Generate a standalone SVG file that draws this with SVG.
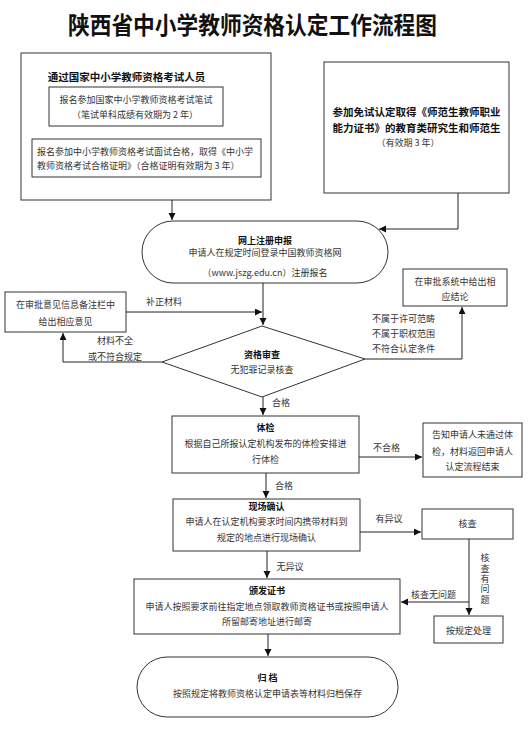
<svg xmlns="http://www.w3.org/2000/svg" width="530" height="735" viewBox="0 0 530 735">
<style>
text{font-family:"Noto Sans CJK SC","Noto Sans",sans-serif;fill:#333;font-size:9px}
.c{text-anchor:middle}
.b{font-weight:bold;fill:#111}
.h{font-weight:bold;fill:#111;font-size:10.5px}
.title{font-weight:bold;fill:#111;font-size:24px}
.v{writing-mode:vertical-rl;letter-spacing:1.3px}
.box{fill:#fff;stroke:#333;stroke-width:1}
.ln{fill:none;stroke:#222;stroke-width:1}
</style>
<defs>
<marker id="ah" markerUnits="userSpaceOnUse" markerWidth="8" markerHeight="8" refX="7" refY="3.5" orient="auto">
<path d="M0,0 L7,3.5 L0,7 z" fill="#111"/>
</marker>
</defs>
<rect width="530" height="735" fill="#fff"/>
<text class="title" x="68" y="33.5" textLength="369" lengthAdjust="spacingAndGlyphs">陕西省中小学教师资格认定工作流程图</text>

<g id="exam">
<rect class="box" x="21" y="53" width="250" height="147"/>
<text class="h c" x="126.5" y="81">通过国家中小学教师资格考试人员</text>
<rect class="box" x="49" y="87" width="174" height="39"/>
<text class="c" x="136" y="103.4">报名参加国家中小学教师资格考试笔试</text>
<text class="c" x="135" y="118.4">（笔试单科成绩有效期为 2 年）</text>
<rect class="box" x="32" y="139" width="229" height="38"/>
<text x="37" y="155.4">报名参加中小学教师资格考试面试合格，取得《中小学</text>
<text x="37" y="169.4">教师资格考试合格证明》（合格证明有效期为 3 年）</text>
</g>

<g id="exempt">
<rect class="box" x="324" y="62" width="185" height="131"/>
<text class="h c" x="416.5" y="116">参加免试认定取得《师范生教师职业</text>
<text class="h c" x="416.5" y="132">能力证书》的教育类研究生和师范生</text>
<text class="c" x="408" y="146.4">（有效期 3 年）</text>
</g>

<g id="register">
<rect class="box" x="142" y="221" width="246" height="62" rx="31" ry="31"/>
<text class="b c" x="265" y="244.4">网上注册申报</text>
<text class="c" x="265" y="256.4">申请人在规定时间登录中国教师资格网</text>
<text class="c" x="265" y="276">（www.jszg.edu.cn）注册报名</text>
</g>

<g id="opinion">
<rect class="box" x="5" y="292" width="121" height="40"/>
<text class="c" x="65.5" y="308.4">在审批意见信息备注栏中</text>
<text class="c" x="65.5" y="325.4">给出相应意见</text>
</g>

<g id="review">
<polygon class="box" points="262,326 365,359 262,397 162,362"/>
<text class="b c" x="262" y="358.4">资格审查</text>
<text class="c" x="262" y="373.4">无犯罪记录核查</text>
</g>

<g id="conclusion">
<rect class="box" x="403" y="269" width="104" height="37"/>
<text class="c" x="455" y="285.4">在审批系统中给出相</text>
<text class="c" x="455" y="300.4">应结论</text>
</g>

<g id="physical">
<rect class="box" x="172" y="416" width="187" height="57"/>
<text class="b c" x="265.5" y="431.4">体检</text>
<text class="c" x="265.5" y="447.4">根据自己所报认定机构发布的体检安排进</text>
<text class="c" x="265.5" y="463.4">行体检</text>
</g>

<g id="fail">
<rect class="box" x="423" y="423" width="99" height="54"/>
<text class="c" x="472.5" y="438.4">告知申请人未通过体</text>
<text class="c" x="472.5" y="455.4">检，材料返回申请人</text>
<text class="c" x="472.5" y="470.4">认定流程结束</text>
</g>

<g id="confirm">
<rect class="box" x="173" y="499" width="187" height="52"/>
<text class="b c" x="266.5" y="510.4">现场确认</text>
<text class="c" x="266.5" y="525.4">申请人在认定机构要求时间内携带材料到</text>
<text class="c" x="266.5" y="541.4">规定的地点进行现场确认</text>
</g>

<g id="check">
<rect class="box" x="422" y="509" width="91" height="30"/>
<text class="c" x="467.5" y="527.4">核查</text>
</g>

<g id="handle">
<rect class="box" x="434" y="616" width="69" height="27"/>
<text class="c" x="468.5" y="634.4">按规定处理</text>
</g>

<g id="issue">
<rect class="box" x="134" y="579" width="266" height="55"/>
<text class="b c" x="267" y="594.4">颁发证书</text>
<text class="c" x="267" y="610.4">申请人按照要求前往指定地点领取教师资格证书或按照申请人</text>
<text class="c" x="267" y="625.4">所留邮寄地址进行邮寄</text>
</g>

<g id="archive">
<rect class="box" x="137" y="657" width="261" height="60" rx="30" ry="30"/>
<text class="b c" x="267.5" y="681.4">归 档</text>
<text class="c" x="267.5" y="697.4">按照规定将教师资格认定申请表等材料归档保存</text>
</g>

<g id="connectors">
<path class="ln" d="M172,200 V220" marker-end="url(#ah)"/>
<path class="ln" d="M458,193 V229 H379" marker-end="url(#ah)"/>
<path class="ln" d="M263,283 V325" marker-end="url(#ah)"/>
<path class="ln" d="M126,312 H262" marker-end="url(#ah)"/>
<path class="ln" d="M162,362 H63 V333" marker-end="url(#ah)"/>
<path class="ln" d="M365,359 H462 V307" marker-end="url(#ah)"/>
<path class="ln" d="M263,397 V415" marker-end="url(#ah)"/>
<path class="ln" d="M359,457 H422" marker-end="url(#ah)"/>
<path class="ln" d="M266,473 V498" marker-end="url(#ah)"/>
<path class="ln" d="M360,532 H421" marker-end="url(#ah)"/>
<path class="ln" d="M469,539 V615" marker-end="url(#ah)"/>
<path class="ln" d="M469,602 H401" marker-end="url(#ah)"/>
<path class="ln" d="M267,551 V578" marker-end="url(#ah)"/>
<path class="ln" d="M268,634 V656" marker-end="url(#ah)"/>
<text class="c" x="164" y="305.4">补正材料</text>
<text class="c" x="115" y="344.4">材料不全</text>
<text class="c" x="115" y="360.4">或不符合规定</text>
<text x="372" y="322.4">不属于许可范畴</text>
<text x="372" y="337.4">不属于职权范围</text>
<text x="372" y="352.4">不符合认定条件</text>
<text class="c" x="281" y="406.4">合格</text>
<text class="c" x="386.5" y="451.4">不合格</text>
<text class="c" x="284" y="489.4">合格</text>
<text class="c" x="389" y="522.4">有异议</text>
<text class="c" x="290" y="570.4">无异议</text>
<text class="c" x="433.5" y="598.4">核查无问题</text>
<text class="v" x="485" y="553.5">核查有问题</text>
</g>
</svg>
